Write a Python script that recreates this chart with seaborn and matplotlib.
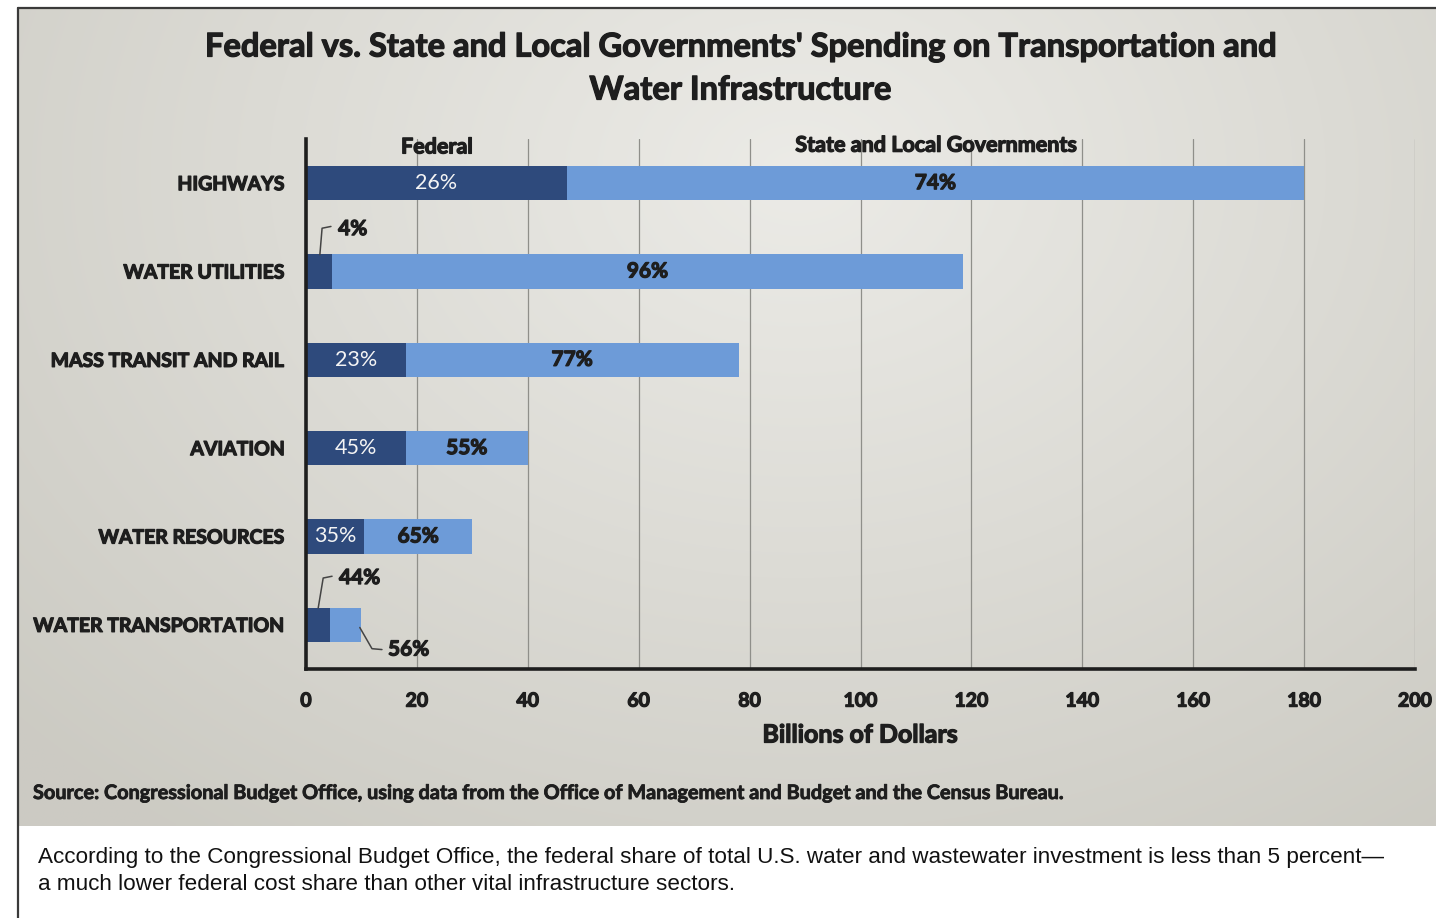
import numpy as np
import pandas as pd
import matplotlib
matplotlib.use("Agg")
import matplotlib.pyplot as plt
import matplotlib.patheffects as pe
import seaborn as sns

# Spending by sector, billions of dollars
categories = ["HIGHWAYS", "WATER UTILITIES", "MASS TRANSIT AND RAIL",
              "AVIATION", "WATER RESOURCES", "WATER TRANSPORTATION"]
federal = [47.0, 4.7, 18.0, 18.0, 10.5, 4.4]
state_local = [133.0, 113.8, 60.0, 22.0, 19.5, 5.6]
federal_pct = ["26%", "4%", "23%", "45%", "35%", "44%"]
state_pct = ["74%", "96%", "77%", "55%", "65%", "56%"]
x_ticks = [0, 20, 40, 60, 80, 100, 120, 140, 160, 180, 200]

df = pd.DataFrame({"sector": categories, "federal": federal,
                   "state": state_local})
df["total"] = df["federal"] + df["state"]

sns.set_theme(style="white")
plt.rcParams["font.family"] = ["Lato", "DejaVu Sans"]

DARK = "#2e4a7c"
LIGHT = "#6d9bd8"
INK = "#1e1e1e"

# Heavier strokes for the bold chart lettering
HEAVY = [pe.withStroke(linewidth=0.9, foreground=INK)]

W, H = 1436, 918
fig = plt.figure(figsize=(W / 100, H / 100), dpi=100, facecolor="white")

# Grey panel with a soft lighter highlight
panel_l, panel_r = 18 / W, 1.0
panel_b, panel_t = 1 - 826 / H, 1 - 8 / H
bg = fig.add_axes([panel_l, panel_b, panel_r - panel_l, panel_t - panel_b], zorder=0)
ny, nx = 200, 400
yy, xx = np.mgrid[0:1:ny * 1j, 0:1:nx * 1j]
d = np.sqrt(((xx - 0.55) / 0.75) ** 2 + ((yy - 0.2) / 1.0) ** 2)
t = np.clip(d, 0, 1)
c_hi = np.array([0.925, 0.922, 0.905])
c_lo = np.array([0.80, 0.795, 0.765])
img = c_hi[None, None, :] * (1 - t[..., None]) + c_lo[None, None, :] * t[..., None]
bg.imshow(img, aspect="auto", extent=[0, 1, 1, 0], interpolation="bilinear")
bg.set_axis_off()

# Frame lines of the panel
fig.add_artist(plt.Line2D([18 / W, 18 / W], [0, 1 - 8 / H], color="#3a3a3a", lw=1.6))
fig.add_artist(plt.Line2D([18 / W, 1], [1 - 8 / H, 1 - 8 / H], color="#3a3a3a", lw=1.6))

# Chart axes
ax_l, ax_r = 306 / W, 1415 / W
ax_t, ax_b = 1 - 139 / H, 1 - 669 / H
ax = fig.add_axes([ax_l, ax_b, ax_r - ax_l, ax_t - ax_b], zorder=2)
ax.patch.set_alpha(0)

sns.barplot(data=df, x="total", y="sector", color=LIGHT, orient="h",
            width=0.39, saturation=1, linewidth=0, ax=ax, zorder=3)
sns.barplot(data=df, x="federal", y="sector", color=DARK, orient="h",
            width=0.39, saturation=1, linewidth=0, ax=ax, zorder=4)

ax.set_xlim(0, 200)
ax.set_ylim(5.5, -0.5)
ax.set_xticks(x_ticks)
ax.set_xticklabels([str(v) for v in x_ticks], fontsize=14, fontweight="bold", color=INK)
ax.set_yticks(range(len(categories)))
ax.set_yticklabels(categories, fontsize=14, fontweight="bold", color=INK)
for lab in ax.get_xticklabels() + ax.get_yticklabels():
    lab.set_path_effects(HEAVY)
ax.tick_params(axis="y", length=0, pad=15)
ax.tick_params(axis="x", length=6, width=2, direction="out", color=INK, pad=11)
ax.set_ylabel("")
ax.set_xlabel("Billions of Dollars", fontsize=18, fontweight="bold", color=INK,
              labelpad=10, path_effects=HEAVY)

for xv in x_ticks[1:]:
    ax.axvline(xv, color="#8f8f8a", lw=0.9, zorder=1)
for side in ["top", "right"]:
    ax.spines[side].set_visible(False)
for side in ["left", "bottom"]:
    ax.spines[side].set_color(INK)
    ax.spines[side].set_linewidth(2.6)
    ax.spines[side].set_zorder(6)

# Series headers
ax.text(23.6, -0.41, "Federal", ha="center", va="center", fontsize=15.5,
        fontweight="bold", color=INK, path_effects=HEAVY)
ax.text(113.6, -0.43, "State and Local Governments", ha="center", va="center",
        fontsize=15.5, fontweight="bold", color=INK, path_effects=HEAVY)

# Percentage labels inside the bars
inside = {0, 2, 3, 4}
for i, (f, s) in enumerate(zip(federal, state_local)):
    if i in inside:
        ax.text(f / 2, i, federal_pct[i], ha="center", va="center",
                fontsize=15.5, color="#f4f4f4", zorder=5)
    if i != 5:
        ax.text(f + s / 2, i, state_pct[i], ha="center", va="center",
                fontsize=15, fontweight="bold", color=INK, zorder=5,
                path_effects=HEAVY)

# Leader-line labels for the small segments
lead = dict(color="#444444", lw=1.1, zorder=5)
small = dict(ha="left", va="center", fontsize=15, fontweight="bold", color=INK,
             path_effects=HEAVY)
ax.plot([2.5, 2.9, 4.5], [0.81, 0.51, 0.49], **lead)
ax.text(5.8, 0.52, federal_pct[1], **small)
ax.plot([2.2, 3.1, 4.7], [4.81, 4.47, 4.45], **lead)
ax.text(5.95, 4.47, federal_pct[5], **small)
ax.plot([9.7, 11.9, 13.7], [5.03, 5.27, 5.28], **lead)
ax.text(14.8, 5.28, state_pct[5], **small)

# Title, source and caption
title = dict(ha="center", va="center", fontsize=23.5, fontweight="bold", color=INK,
             path_effects=HEAVY)
fig.text(740 / W, 1 - 47 / H,
         "Federal vs. State and Local Governments' Spending on Transportation and",
         **title)
fig.text(740 / W, 1 - 90 / H, "Water Infrastructure", **title)
fig.text(33 / W, 1 - 793 / H,
         "Source: Congressional Budget Office, using data from the Office of "
         "Management and Budget and the Census Bureau.",
         ha="left", va="center", fontsize=14.3, fontweight="bold", color=INK,
         path_effects=[pe.withStroke(linewidth=0.6, foreground=INK)])
cap = dict(ha="left", va="center", fontsize=16.2, color="#111111",
           family=["Liberation Sans", "DejaVu Sans"])
fig.text(38 / W, 1 - 858 / H,
         "According to the Congressional Budget Office, the federal share of total "
         "U.S. water and wastewater investment is less than 5 percent\u2014", **cap)
fig.text(38 / W, 1 - 885 / H,
         "a much lower federal cost share than other vital infrastructure sectors.",
         **cap)

fig.savefig("out.png", dpi=100, facecolor="white")
